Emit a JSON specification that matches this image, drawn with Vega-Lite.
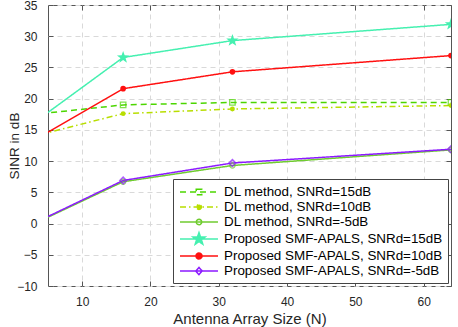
{
  "$schema": "https://vega.github.io/schema/vega-lite/v6.json",
  "width": 403,
  "height": 281,
  "autosize": {"type": "none"},
  "padding": {"left": 48, "top": 5, "right": 6, "bottom": 41},
  "background": "white",
  "data": {
    "values": [
      {"series": "DL method, SNRd=15dB", "N": 4, "sinr": 17.6},
      {"series": "DL method, SNRd=15dB", "N": 16, "sinr": 19.0},
      {"series": "DL method, SNRd=15dB", "N": 32, "sinr": 19.4},
      {"series": "DL method, SNRd=15dB", "N": 64, "sinr": 19.4},
      {"series": "DL method, SNRd=10dB", "N": 4, "sinr": 14.3},
      {"series": "DL method, SNRd=10dB", "N": 16, "sinr": 17.6},
      {"series": "DL method, SNRd=10dB", "N": 32, "sinr": 18.35},
      {"series": "DL method, SNRd=10dB", "N": 64, "sinr": 18.9},
      {"series": "DL method, SNRd=-5dB", "N": 4, "sinr": 0.5},
      {"series": "DL method, SNRd=-5dB", "N": 16, "sinr": 6.7},
      {"series": "DL method, SNRd=-5dB", "N": 32, "sinr": 9.3},
      {"series": "DL method, SNRd=-5dB", "N": 64, "sinr": 11.8},
      {"series": "Proposed SMF-APALS, SNRd=15dB", "N": 4, "sinr": 17.0},
      {"series": "Proposed SMF-APALS, SNRd=15dB", "N": 16, "sinr": 26.6},
      {"series": "Proposed SMF-APALS, SNRd=15dB", "N": 32, "sinr": 29.3},
      {"series": "Proposed SMF-APALS, SNRd=15dB", "N": 64, "sinr": 31.9},
      {"series": "Proposed SMF-APALS, SNRd=10dB", "N": 4, "sinr": 14.0},
      {"series": "Proposed SMF-APALS, SNRd=10dB", "N": 16, "sinr": 21.6},
      {"series": "Proposed SMF-APALS, SNRd=10dB", "N": 32, "sinr": 24.3},
      {"series": "Proposed SMF-APALS, SNRd=10dB", "N": 64, "sinr": 26.9},
      {"series": "Proposed SMF-APALS, SNRd=-5dB", "N": 4, "sinr": 0.6},
      {"series": "Proposed SMF-APALS, SNRd=-5dB", "N": 16, "sinr": 6.9},
      {"series": "Proposed SMF-APALS, SNRd=-5dB", "N": 32, "sinr": 9.7},
      {"series": "Proposed SMF-APALS, SNRd=-5dB", "N": 64, "sinr": 11.9}
    ]
  },
  "resolve": {"axis": {"x": "independent", "y": "independent"}},
  "layer": [
    {
      "mark": {"type": "line", "strokeWidth": 1.5, "clip": true},
      "encoding": {
        "x": {"field": "N", "type": "quantitative", "scale": {"domain": [5, 64], "nice": false},
          "axis": {"orient": "bottom", "values": [10, 20, 30, 40, 50, 60], "grid": true, "title": "Antenna Array Size (N)", "titleFontSize": 15, "labelPadding": 15, "titlePadding": 4}},
        "y": {"field": "sinr", "type": "quantitative", "scale": {"domain": [-10, 35], "nice": false},
          "axis": {"orient": "left", "values": [-10, -5, 0, 5, 10, 15, 20, 25, 30, 35], "grid": true, "title": "SINR in dB", "titleFontSize": 13.5, "labelPadding": 16, "titlePadding": -5}},
        "stroke": {"field": "series", "type": "nominal",
          "scale": {"domain": ["DL method, SNRd=15dB", "DL method, SNRd=10dB", "DL method, SNRd=-5dB", "Proposed SMF-APALS, SNRd=15dB", "Proposed SMF-APALS, SNRd=10dB", "Proposed SMF-APALS, SNRd=-5dB"],
                    "range": ["#4cd600", "#b8de00", "#70cc30", "#45f0b0", "#ff1010", "#8c1aff"]}},
        "strokeDash": {"field": "series", "type": "nominal",
          "scale": {"domain": ["DL method, SNRd=15dB", "DL method, SNRd=10dB", "DL method, SNRd=-5dB", "Proposed SMF-APALS, SNRd=15dB", "Proposed SMF-APALS, SNRd=10dB", "Proposed SMF-APALS, SNRd=-5dB"],
                    "range": [[6, 4], [6, 3, 1.5, 3], [1, 0], [1, 0], [1, 0], [1, 0]]}}
      }
    },
    {
      "transform": [{"filter": "datum.series === 'DL method, SNRd=15dB'"}],
      "mark": {"type": "point", "shape": "square", "filled": false, "color": "#4cd600", "size": 30, "strokeWidth": 1.3, "clip": true},
      "encoding": {"x": {"field": "N", "type": "quantitative", "axis": null}, "y": {"field": "sinr", "type": "quantitative", "axis": null}}
    },
    {
      "transform": [{"filter": "datum.series === 'DL method, SNRd=10dB'"}],
      "mark": {"type": "point", "shape": "circle", "filled": true, "color": "#b8de00", "size": 24, "opacity": 1, "clip": true},
      "encoding": {"x": {"field": "N", "type": "quantitative", "axis": null}, "y": {"field": "sinr", "type": "quantitative", "axis": null}}
    },
    {
      "transform": [{"filter": "datum.series === 'DL method, SNRd=-5dB'"}],
      "mark": {"type": "point", "shape": "circle", "filled": false, "color": "#70cc30", "size": 28, "strokeWidth": 1.3, "clip": true},
      "encoding": {"x": {"field": "N", "type": "quantitative", "axis": null}, "y": {"field": "sinr", "type": "quantitative", "axis": null}}
    },
    {
      "transform": [{"filter": "datum.series === 'Proposed SMF-APALS, SNRd=15dB'"}],
      "mark": {"type": "point", "shape": "M0,-1L0.235,-0.324L0.951,-0.309L0.38,0.124L0.588,0.809L0,0.4L-0.588,0.809L-0.38,0.124L-0.951,-0.309L-0.235,-0.324Z", "filled": true, "color": "#45f0b0", "size": 169, "opacity": 1, "clip": true},
      "encoding": {"x": {"field": "N", "type": "quantitative", "axis": null}, "y": {"field": "sinr", "type": "quantitative", "axis": null}}
    },
    {
      "transform": [{"filter": "datum.series === 'Proposed SMF-APALS, SNRd=10dB'"}],
      "mark": {"type": "point", "shape": "circle", "filled": true, "color": "#ff1010", "size": 32, "opacity": 1, "clip": true},
      "encoding": {"x": {"field": "N", "type": "quantitative", "axis": null}, "y": {"field": "sinr", "type": "quantitative", "axis": null}}
    },
    {
      "transform": [{"filter": "datum.series === 'Proposed SMF-APALS, SNRd=-5dB'"}],
      "mark": {"type": "point", "shape": "diamond", "filled": false, "color": "#8c1aff", "size": 45, "strokeWidth": 1.5, "clip": true},
      "encoding": {"x": {"field": "N", "type": "quantitative", "axis": null}, "y": {"field": "sinr", "type": "quantitative", "axis": null}}
    },
    {
      "transform": [{"filter": "false"}],
      "mark": {"type": "point", "size": 196, "strokeWidth": 1.5, "opacity": 1},
      "encoding": {
        "x": {"field": "N", "type": "quantitative",
          "axis": {"orient": "top", "values": [10, 20, 30, 40, 50, 60], "labels": false, "grid": false, "title": null}},
        "y": {"field": "sinr", "type": "quantitative",
          "axis": {"orient": "right", "values": [-10, -5, 0, 5, 10, 15, 20, 25, 30, 35], "labels": false, "grid": false, "title": null}},
        "stroke": {"field": "series", "type": "nominal",
          "scale": {"domain": ["DL method, SNRd=15dB", "DL method, SNRd=10dB", "DL method, SNRd=-5dB", "Proposed SMF-APALS, SNRd=15dB", "Proposed SMF-APALS, SNRd=10dB", "Proposed SMF-APALS, SNRd=-5dB"],
                    "range": ["#4cd600", "#b8de00", "#70cc30", "#45f0b0", "#ff1010", "#8c1aff"]}},
        "strokeDash": {"field": "series", "type": "nominal",
          "scale": {"domain": ["DL method, SNRd=15dB", "DL method, SNRd=10dB", "DL method, SNRd=-5dB", "Proposed SMF-APALS, SNRd=15dB", "Proposed SMF-APALS, SNRd=10dB", "Proposed SMF-APALS, SNRd=-5dB"],
                    "range": [[6, 4], [6, 3, 1.5, 3], [1, 0], [1, 0], [1, 0], [1, 0]]}},
        "fill": {"field": "series", "type": "nominal",
          "scale": {"domain": ["DL method, SNRd=15dB", "DL method, SNRd=10dB", "DL method, SNRd=-5dB", "Proposed SMF-APALS, SNRd=15dB", "Proposed SMF-APALS, SNRd=10dB", "Proposed SMF-APALS, SNRd=-5dB"],
                    "range": ["transparent", "#b8de00", "transparent", "#45f0b0", "#ff1010", "transparent"]}},
        "shape": {"field": "series", "type": "nominal",
          "scale": {"domain": ["DL method, SNRd=15dB", "DL method, SNRd=10dB", "DL method, SNRd=-5dB", "Proposed SMF-APALS, SNRd=15dB", "Proposed SMF-APALS, SNRd=10dB", "Proposed SMF-APALS, SNRd=-5dB"],
                    "range": [
                      "M-2.714,0H2.714M-0.394,-0.394H0.394V0.394H-0.394Z",
                      "M-2.714,0H2.714M0.353,0L0.306,0.176L0.176,0.306L0,0.353L-0.176,0.306L-0.306,0.176L-0.353,0L-0.306,-0.176L-0.176,-0.306L0,-0.353L0.176,-0.306L0.306,-0.176Z",
                      "M-2.714,0H2.714M0.394,0L0.341,0.197L0.197,0.341L0,0.394L-0.197,0.341L-0.341,0.197L-0.394,0L-0.341,-0.197L-0.197,-0.341L0,-0.394L0.197,-0.341L0.341,-0.197Z",
                      "M-2.714,0H2.714M0,-0.923L0.217,-0.299L0.877,-0.285L0.35,0.114L0.543,0.746L0,0.369L-0.543,0.746L-0.35,0.114L-0.877,-0.285L-0.217,-0.299Z",
                      "M-2.714,0H2.714M0.434,0L0.376,0.217L0.217,0.376L0,0.434L-0.217,0.376L-0.376,0.217L-0.434,0L-0.376,-0.217L-0.217,-0.376L0,-0.434L0.217,-0.376L0.376,-0.217Z",
                      "M-2.714,0H2.714M0,-0.516L0.461,0L0,0.516L-0.461,0Z"
                    ]}}
      }
    }
  ],
  "config": {
    "font": "Liberation Sans",
    "view": {"stroke": "#555555", "strokeWidth": 1},
    "axis": {
      "labelFont": "Liberation Sans",
      "labelFontSize": 12,
      "labelColor": "#262626",
      "titleFont": "Liberation Sans",
      "titleFontWeight": "normal",
      "titleColor": "#262626",
      "domain": false,
      "ticks": true,
      "tickSize": -5,
      "tickColor": "#555555",
      "tickWidth": 1,
      "gridColor": "#d9d9d9",
      "gridDash": [5, 4],
      "gridWidth": 1
    },
    "legend": {
      "orient": "bottom-right",
      "offset": 3.5,
      "title": null,
      "labelFont": "Liberation Sans",
      "labelFontSize": 13.4,
      "labelColor": "#000000",
      "padding": 5,
      "strokeColor": "#444444",
      "fillColor": "white",
      "symbolSize": 196,
      "symbolStrokeWidth": 1.5,
      "symbolOffset": 13,
      "labelOffset": 17,
      "rowPadding": 0,
      "labelLimit": 400
    }
  }
}
